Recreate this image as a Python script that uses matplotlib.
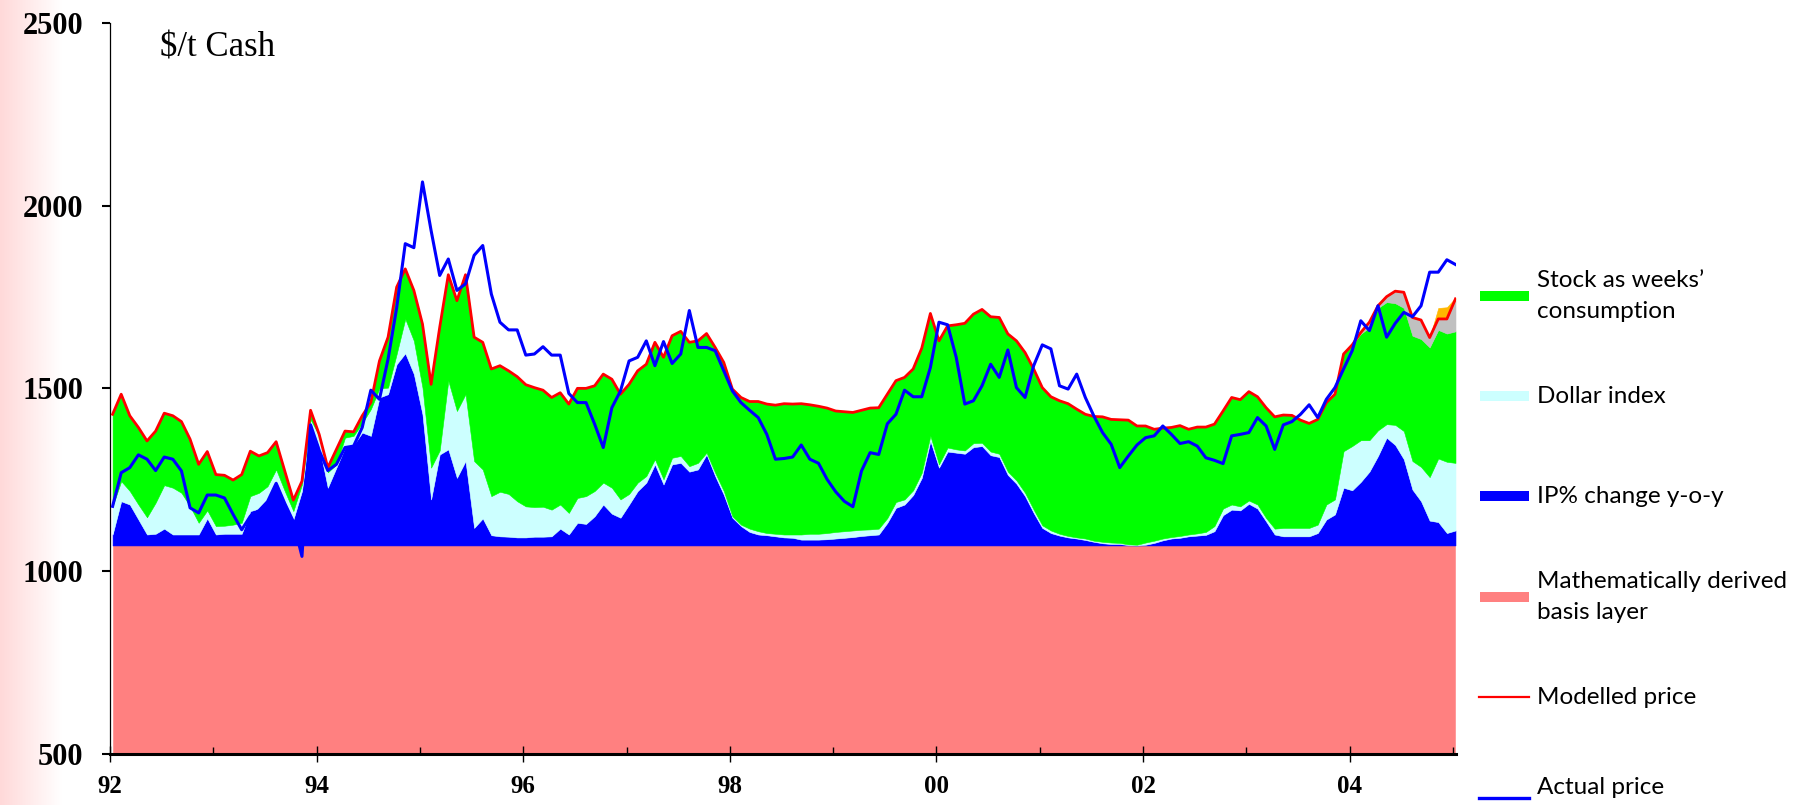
import numpy as np
import matplotlib.pyplot as plt
from matplotlib.patches import Rectangle

# Valores mensais, jan/92 .. jan/05 ($/t)
actual = [1177, 1269, 1283, 1318, 1306, 1275, 1312, 1306, 1274, 1173,
          1159, 1208, 1208, 1200, 1155, 1113, 1150, 1165, 1190, 1240,
          1185, 1135, 1040, 1400, 1330, 1275, 1292, 1338, 1342, 1393,
          1495, 1470, 1580, 1720, 1896, 1885, 2065, 1932, 1809, 1854,
          1768, 1786, 1864, 1891, 1758, 1681, 1660, 1660, 1591, 1594,
          1614, 1591, 1591, 1486, 1461, 1461, 1402, 1338, 1447, 1493,
          1575, 1585, 1630, 1562, 1628, 1568, 1594, 1713, 1612, 1612,
          1603, 1548, 1493, 1461, 1440, 1420, 1374, 1306, 1308, 1312,
          1345, 1306, 1295, 1251, 1217, 1191, 1176, 1274, 1324, 1319,
          1403, 1429, 1495, 1477, 1477, 1557, 1681, 1674, 1585, 1457,
          1466, 1507, 1566, 1530, 1605, 1502, 1475, 1562, 1619, 1608,
          1507, 1498, 1539, 1475, 1424, 1379, 1347, 1283, 1315, 1345,
          1365, 1370, 1397, 1374, 1349, 1354, 1342, 1310, 1303, 1294,
          1370, 1374, 1379, 1420, 1397, 1333, 1400, 1409, 1429, 1455,
          1420, 1470, 1502, 1553, 1603, 1685, 1658, 1726, 1640, 1678,
          1708, 1696, 1726, 1818, 1818, 1852, 1839]

modelled = [1429, 1484, 1425, 1393, 1356, 1383, 1432, 1425, 1409, 1361,
            1292, 1327, 1264, 1262, 1249, 1264, 1328, 1315, 1324, 1354,
            1274, 1194, 1246, 1440, 1374, 1283, 1333, 1383, 1381, 1425,
            1461, 1575, 1640, 1777, 1827, 1768, 1676, 1511, 1667, 1811,
            1740, 1811, 1640, 1626, 1553, 1562, 1548, 1532, 1510, 1502,
            1495, 1475, 1488, 1457, 1500, 1500, 1507, 1539, 1525, 1484,
            1511, 1548, 1566, 1626, 1585, 1644, 1656, 1626, 1630, 1650,
            1612, 1571, 1498, 1475, 1464, 1464, 1457, 1454, 1458, 1457,
            1458, 1455, 1451, 1446, 1438, 1436, 1434, 1440, 1446, 1447,
            1484, 1521, 1530, 1553, 1610, 1705, 1630, 1671, 1674, 1678,
            1703, 1716, 1696, 1694, 1649, 1630, 1598, 1553, 1502, 1477,
            1466, 1458, 1443, 1429, 1423, 1422, 1415, 1414, 1413, 1397,
            1397, 1388, 1391, 1393, 1398, 1388, 1394, 1394, 1402, 1438,
            1475, 1469, 1491, 1477, 1447, 1422, 1427, 1426, 1413, 1404,
            1415, 1461, 1484, 1594, 1619, 1653, 1681, 1726, 1751, 1766,
            1763, 1694, 1687, 1639, 1690, 1690, 1745]

ip_top = [1100, 1191, 1182, 1141, 1100, 1102, 1116, 1100, 1100, 1100,
          1100, 1144, 1100, 1102, 1102, 1102, 1164, 1171, 1196, 1248,
          1191, 1141, 1219, 1406, 1342, 1228, 1283, 1338, 1345, 1379,
          1370, 1475, 1484, 1566, 1596, 1539, 1429, 1196, 1319, 1333,
          1255, 1301, 1118, 1144, 1098, 1095, 1094, 1092, 1092, 1094,
          1094, 1095, 1116, 1100, 1132, 1129, 1150, 1182, 1157, 1146,
          1182, 1219, 1242, 1292, 1237, 1292, 1296, 1272, 1278, 1319,
          1260, 1209, 1146, 1123, 1107, 1100, 1098, 1095, 1092, 1091,
          1086, 1086, 1086, 1087, 1089, 1091, 1093, 1096, 1098, 1100,
          1132, 1173, 1182, 1208, 1255, 1356, 1283, 1327, 1324, 1321,
          1339, 1342, 1317, 1312, 1263, 1239, 1205, 1159, 1118, 1104,
          1097, 1092, 1089, 1085, 1080, 1076, 1074, 1074, 1071, 1070,
          1072, 1077, 1084, 1089, 1091, 1095, 1097, 1099, 1109, 1153,
          1168, 1166, 1184, 1171, 1136, 1100, 1095, 1095, 1095, 1095,
          1104, 1141, 1155, 1228, 1221, 1244, 1272, 1315, 1365, 1345,
          1306, 1223, 1191, 1138, 1134, 1104, 1111]

dollar_top = [1177, 1246, 1219, 1182, 1147, 1187, 1235, 1228, 1214, 1177,
              1132, 1166, 1123, 1124, 1127, 1132, 1205, 1214, 1232, 1278,
              1219, 1164, 1237, 1415, 1370, 1270, 1292, 1365, 1370, 1405,
              1443, 1500, 1502, 1594, 1690, 1630, 1502, 1283, 1330, 1521,
              1438, 1484, 1301, 1278, 1205, 1217, 1211, 1191, 1177, 1175,
              1176, 1168, 1182, 1159, 1200, 1205, 1219, 1242, 1228, 1196,
              1211, 1242, 1260, 1306, 1251, 1310, 1315, 1287, 1296, 1324,
              1269, 1219, 1150, 1127, 1116, 1109, 1104, 1102, 1100, 1100,
              1100, 1102, 1102, 1104, 1107, 1109, 1111, 1113, 1114, 1116,
              1145, 1189, 1196, 1221, 1269, 1370, 1292, 1338, 1333, 1330,
              1350, 1351, 1327, 1321, 1272, 1248, 1214, 1168, 1125, 1111,
              1102, 1096, 1092, 1089, 1083, 1080, 1078, 1077, 1073, 1072,
              1078, 1083, 1089, 1093, 1096, 1100, 1103, 1107, 1123, 1171,
              1182, 1177, 1193, 1182, 1145, 1116, 1118, 1118, 1118, 1118,
              1127, 1182, 1196, 1328, 1342, 1358, 1358, 1385, 1402, 1400,
              1383, 1301, 1285, 1257, 1308, 1299, 1296]

# Final da série (a partir de mai/04): topo verde, cinza e laranja
tail_start = 144
stock_tail = [1619, 1649, 1667, 1720, 1736, 1733, 1720, 1644, 1635, 1612,
              1660, 1650, 1656]
orange_tail = [1619, 1653, 1681, 1726, 1751, 1766, 1763, 1694, 1687, 1639,
               1720, 1722, 1748]

basis_top = 1070
floor = 500

year_ticks = [92, 94, 96, 98, 100, 102, 104]
year_labels = ['92', '94', '96', '98', '00', '02', '04']
y_ticks = [500, 1000, 1500, 2000, 2500]

legend_labels = ['Stock as weeks\u2019\nconsumption', 'Dollar index',
                 'IP% change y-o-y', 'Mathematically derived\nbasis layer',
                 'Modelled price', 'Actual price']

c_basis = '#FF8080'
c_ip = '#0000FF'
c_dollar = '#CCFFFF'
c_stock = '#00FF00'
c_other = '#C0C0C0'
c_orange = '#FFB800'

W, H = 1812, 805
fig = plt.figure(figsize=(W / 100, H / 100), dpi=100)

# faixa rosada na borda esquerda
bg = fig.add_axes([0, 0, 62 / W, 1], zorder=-5)
g = np.linspace(0, 1, 256)
rgb = np.ones((1, 256, 3))
rgb[0, :, 1] = 0.85 + 0.15 * g
rgb[0, :, 2] = 0.85 + 0.15 * g
bg.imshow(rgb, aspect='auto', extent=[0, 1, 0, 1])
bg.axis('off')

ax = fig.add_axes([110 / W, 1 - 753.7 / H, (1456 - 110) / W, (753.7 - 23) / H])
ax.patch.set_alpha(0)

month = np.arange(len(modelled))
x = 92 + (month + 0.3) / 12
stock_top = np.array(modelled[:tail_start] + stock_tail)
xt = x[tail_start:]

kw = dict(linewidth=0.4)
ax.fill_between(x, floor, basis_top, color=c_basis, **kw)
ax.fill_between(x, basis_top, ip_top, color=c_ip, **kw)
ax.fill_between(x, ip_top, dollar_top, color=c_dollar, **kw)
ax.fill_between(x, dollar_top, stock_top, color=c_stock, **kw)
ax.fill_between(xt, stock_tail, modelled[tail_start:], color=c_other, **kw)
ax.fill_between(xt, modelled[tail_start:], orange_tail, color=c_orange, **kw)

ax.plot(x, modelled, color='#FF0000', lw=2, zorder=3)
ax.plot(x, actual, color='#0000FF', lw=2.2, zorder=4)

ax.set_xlim(92, 105.03)
ax.set_ylim(500, 2500)
for s in ['top', 'right']:
    ax.spines[s].set_visible(False)
ax.spines['left'].set_linewidth(0.9)
ax.spines['bottom'].set_linewidth(2.2)

ax.set_xticks(year_ticks)
ax.set_xticklabels(year_labels, fontfamily='Liberation Serif',
                   fontweight='bold', fontsize=18)
ax.set_xticks([93, 95, 97, 99, 101, 103, 105], minor=True)
ax.set_yticks(y_ticks)
ax.set_yticklabels([str(v) for v in y_ticks], fontfamily='Liberation Serif',
                   fontweight='bold', fontsize=22)
ax.tick_params(axis='y', direction='out', length=6, width=1.5, pad=13)
ax.tick_params(axis='x', which='major', direction='inout', length=12,
               width=1, pad=9)
ax.tick_params(axis='x', which='minor', direction='in', length=5, width=1)

fig.text(160 / W, 1 - 48 / H, '$/t Cash', fontfamily='Liberation Serif',
         fontsize=25, va='center', ha='left')

# legenda à direita, em coordenadas de pixel
lg = fig.add_axes([0, 0, 1, 1], zorder=5)
lg.set_xlim(0, W)
lg.set_ylim(H, 0)
lg.axis('off')
patch_colors = [c_stock, c_dollar, c_ip, c_basis]
patch_y = [296, 396, 496, 597]
for lab, col, yc in zip(legend_labels[:4], patch_colors, patch_y):
    lg.add_patch(Rectangle((1480, yc - 5), 49, 10, color=col, lw=0))
    lines = lab.split('\n')
    if len(lines) == 1:
        lg.text(1537, yc, lines[0], fontfamily='Lato', fontsize=17.5,
                va='center', ha='left')
    else:
        lg.text(1537, yc - 16, lines[0], fontfamily='Lato', fontsize=17.5,
                va='center', ha='left')
        lg.text(1537, yc + 15, lines[1], fontfamily='Lato', fontsize=17.5,
                va='center', ha='left')
lg.plot([1479, 1529], [697, 697], color='#FF0000', lw=1.6)
lg.text(1537, 697, legend_labels[4], fontfamily='Lato', fontsize=17.5,
        va='center', ha='left')
lg.plot([1479, 1529], [798, 798], color='#0000FF', lw=2.4)
lg.text(1537, 787, legend_labels[5], fontfamily='Lato', fontsize=17.5,
        va='center', ha='left')

fig.savefig('out.png', dpi=100)
